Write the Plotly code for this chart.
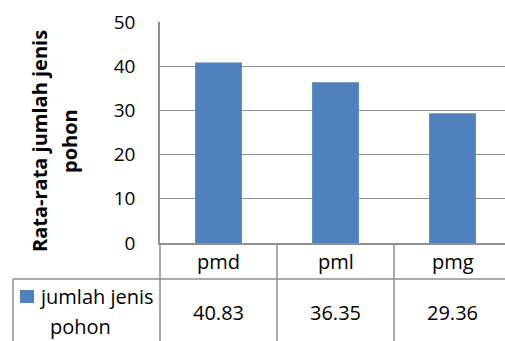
import plotly.graph_objects as go

categories = ["pmd", "pml", "pmg"]
values = [40.83, 36.35, 29.36]
value_labels = ["40.83", "36.35", "29.36"]
series_name_lines = ["jumlah jenis", "pohon"]
y_title_lines = ["Rata-rata jumlah jenis", "pohon"]
y_ticks = [0, 10, 20, 30, 40, 50]

W, H = 505, 341
ML, MR, MT, MB = 160, 0, 22, 98
PW, PH = W - ML - MR, H - MT - MB
CAT_PX = 117.0
XMIN = -0.5
XMAX = XMIN + PW / CAT_PX

BAR = "#4F81BD"
GRID = "#8f8f8f"
FONT = "Open Sans"
TFS = 20


def px_x(px):
    return (px - ML) / PW


def px_y(py):
    return (MT + PH - py) / PH


def cat_x(c):
    return (c - XMIN) / (XMAX - XMIN)


fig = go.Figure()
fig.add_trace(go.Bar(x=list(range(len(categories))), y=values, width=0.4,
                     marker=dict(color=BAR, line=dict(width=0)), showlegend=False))

fig.update_layout(
    width=W, height=H,
    margin=dict(l=ML, r=MR, t=MT, b=MB),
    paper_bgcolor="white", plot_bgcolor="white",
    font=dict(family=FONT, size=19, color="#000000"),
)
fig.update_xaxes(range=[XMIN, XMAX], showticklabels=False, showgrid=False,
                 zeroline=False, showline=True, linecolor=GRID, linewidth=1.5,
                 ticks="", fixedrange=True)
fig.update_yaxes(range=[0, 50], tickvals=y_ticks, ticktext=[str(t) for t in y_ticks],
                 showgrid=True, gridcolor=GRID, gridwidth=1.2, zeroline=False,
                 showline=True, linecolor=GRID, linewidth=1.5, ticks="",
                 ticklabelstandoff=19, tickfont=dict(family=FONT, size=19, color="#000"))

line = dict(color=GRID, width=1.5)
bottom = px_y(H + 5)
row_split = px_y(279)
shapes = []
shapes.append(dict(type="line", xref="paper", yref="paper", x0=0, x1=0, y0=0, y1=bottom, line=line))
for i in range(len(categories) - 1):
    xb = cat_x(i + 0.5)
    shapes.append(dict(type="line", xref="paper", yref="paper", x0=xb, x1=xb, y0=0, y1=bottom, line=line))
shapes.append(dict(type="line", xref="paper", yref="paper", x0=px_x(13), x1=1.02, y0=row_split, y1=row_split, line=line))
shapes.append(dict(type="line", xref="paper", yref="paper", x0=px_x(13), x1=px_x(13), y0=row_split, y1=bottom, line=line))
shapes.append(dict(type="rect", xref="paper", yref="paper", x0=px_x(20), x1=px_x(34), y0=px_y(290), y1=px_y(303),
                   fillcolor=BAR, line=dict(width=0)))
fig.update_layout(shapes=shapes)

ann = []
for i, (c, v) in enumerate(zip(categories, value_labels)):
    ann.append(dict(text=c, xref="paper", yref="paper", x=cat_x(i), y=px_y(261), showarrow=False,
                    xanchor="center", yanchor="middle", font=dict(family=FONT, size=TFS, color="#000")))
    ann.append(dict(text=v, xref="paper", yref="paper", x=cat_x(i), y=px_y(312), showarrow=False,
                    xanchor="center", yanchor="middle", font=dict(family=FONT, size=TFS, color="#000")))
ann.append(dict(text=series_name_lines[0], xref="paper", yref="paper", x=px_x(37), y=px_y(296), showarrow=False,
                xanchor="left", yanchor="middle", font=dict(family=FONT, size=TFS, color="#000")))
ann.append(dict(text=series_name_lines[1], xref="paper", yref="paper", x=px_x(80), y=px_y(326), showarrow=False,
                xanchor="center", yanchor="middle", font=dict(family=FONT, size=TFS, color="#000")))
for xc, t in zip([39, 69], y_title_lines):
    ann.append(dict(text="<b>" + t + "</b>", xref="paper", yref="paper", x=px_x(xc), y=px_y(141),
                    showarrow=False, textangle=-90, xanchor="center", yanchor="middle",
                    font=dict(family=FONT, size=20, color="#000")))
fig.update_layout(annotations=ann)

fig.write_html("out.html", config={"displayModeBar": False},
               post_script="document.body.style.margin='0';document.body.style.overflow='hidden';")
